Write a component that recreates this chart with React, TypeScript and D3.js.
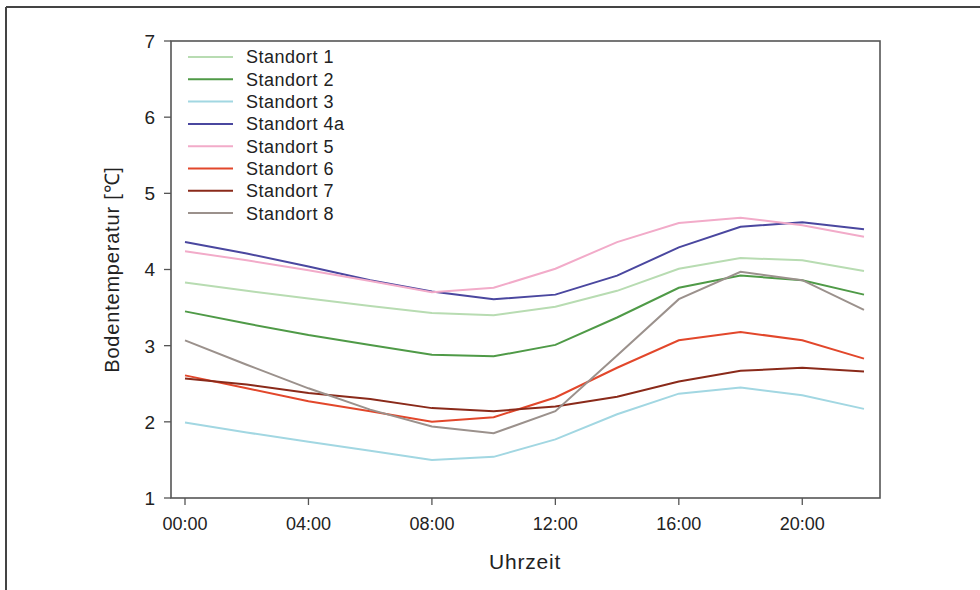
import React from "react";
import * as d3 from "d3";

const hours = [0, 2, 4, 6, 8, 10, 12, 14, 16, 18, 20, 22];
const xTickHours = [0, 4, 8, 12, 16, 20];
const xTickLabels = ["00:00", "04:00", "08:00", "12:00", "16:00", "20:00"];
const yTicks = [1, 2, 3, 4, 5, 6, 7];

const seriesNames = ["Standort 1", "Standort 2", "Standort 3", "Standort 4a", "Standort 5", "Standort 6", "Standort 7", "Standort 8"];
const seriesColors = ["#b8dcb2", "#4f9a47", "#a2d7e2", "#4a479f", "#f2abc9", "#e2472b", "#8a2a1a", "#9b918c"];

const standort1 = [3.83, 3.72, 3.62, 3.52, 3.43, 3.40, 3.51, 3.72, 4.01, 4.15, 4.12, 3.98];
const standort2 = [3.45, 3.29, 3.14, 3.01, 2.88, 2.86, 3.01, 3.37, 3.76, 3.92, 3.86, 3.67];
const standort3 = [1.99, 1.86, 1.74, 1.62, 1.50, 1.54, 1.77, 2.10, 2.37, 2.45, 2.35, 2.17];
const standort4a = [4.36, 4.21, 4.04, 3.86, 3.71, 3.61, 3.67, 3.92, 4.29, 4.56, 4.62, 4.53];
const standort5 = [4.24, 4.12, 3.99, 3.85, 3.70, 3.76, 4.01, 4.36, 4.61, 4.68, 4.58, 4.43];
const standort6 = [2.61, 2.44, 2.27, 2.14, 2.00, 2.06, 2.32, 2.71, 3.07, 3.18, 3.07, 2.83];
const standort7 = [2.57, 2.49, 2.38, 2.30, 2.18, 2.14, 2.20, 2.33, 2.53, 2.67, 2.71, 2.66];
const standort8 = [3.07, 2.75, 2.44, 2.16, 1.94, 1.85, 2.14, 2.87, 3.61, 3.97, 3.86, 3.47];

const seriesValues = [standort1, standort2, standort3, standort4a, standort5, standort6, standort7, standort8];

export default function App() {
  const left = 171, right = 880, top = 41, bottom = 498;
  const x = d3.scaleLinear().domain([0, 22]).range([185, 864]);
  const y = d3.scaleLinear().domain([1, 7]).range([bottom, top]);
  const line = d3.line<number>().x((_, i) => x(hours[i])).y((v) => y(v));
  const font = "'Liberation Sans', Arial, sans-serif";
  const textColor = "#222";
  const axisColor = "#555";

  return (
    <svg width={980} height={590} style={{ position: "absolute", left: 0, top: 0, background: "#fff" }} fontFamily={font}>
      <rect x={0} y={0} width={980} height={590} fill="#fff" />
      {/* outer frame */}
      <line x1={6} y1={7} x2={980} y2={7} stroke="#444" strokeWidth={2} />
      <line x1={6} y1={7} x2={6} y2={590} stroke="#444" strokeWidth={2} />

      {/* series */}
      {seriesValues.map((vals, i) => (
        <path key={i} d={line(vals) || ""} fill="none" stroke={seriesColors[i]} strokeWidth={2} />
      ))}

      {/* plot box */}
      <rect x={left} y={top} width={right - left} height={bottom - top} fill="none" stroke={axisColor} strokeWidth={1.6} />

      {/* y ticks */}
      {yTicks.map((t) => (
        <g key={t}>
          <line x1={left - 7} x2={left} y1={y(t)} y2={y(t)} stroke={axisColor} strokeWidth={1.3} />
          <text x={155} y={y(t)} dy="0.36em" textAnchor="end" fontSize={19} fill={textColor}>{t}</text>
        </g>
      ))}

      {/* x ticks */}
      {xTickHours.map((h, i) => (
        <g key={h}>
          <line x1={x(h)} x2={x(h)} y1={bottom} y2={bottom + 7} stroke={axisColor} strokeWidth={1.3} />
          <text x={x(h)} y={530} textAnchor="middle" fontSize={18} fill={textColor}>{xTickLabels[i]}</text>
        </g>
      ))}

      {/* axis titles */}
      <text x={525} y={569} textAnchor="middle" fontSize={21} letterSpacing={0.8} fill={textColor}>Uhrzeit</text>
      <text transform={`translate(119, ${(top + bottom) / 2}) rotate(-90)`} textAnchor="middle" fontSize={20} letterSpacing={0.8} fill={textColor}>Bodentemperatur [℃]</text>

      {/* legend */}
      {seriesNames.map((n, i) => {
        const ly = 57 + i * 22.3;
        return (
          <g key={n}>
            <line x1={188} x2={233} y1={ly} y2={ly} stroke={seriesColors[i]} strokeWidth={2} />
            <text x={246} y={ly} dy="0.36em" fontSize={18} letterSpacing={0.5} fill={textColor}>{n}</text>
          </g>
        );
      })}
    </svg>
  );
}
